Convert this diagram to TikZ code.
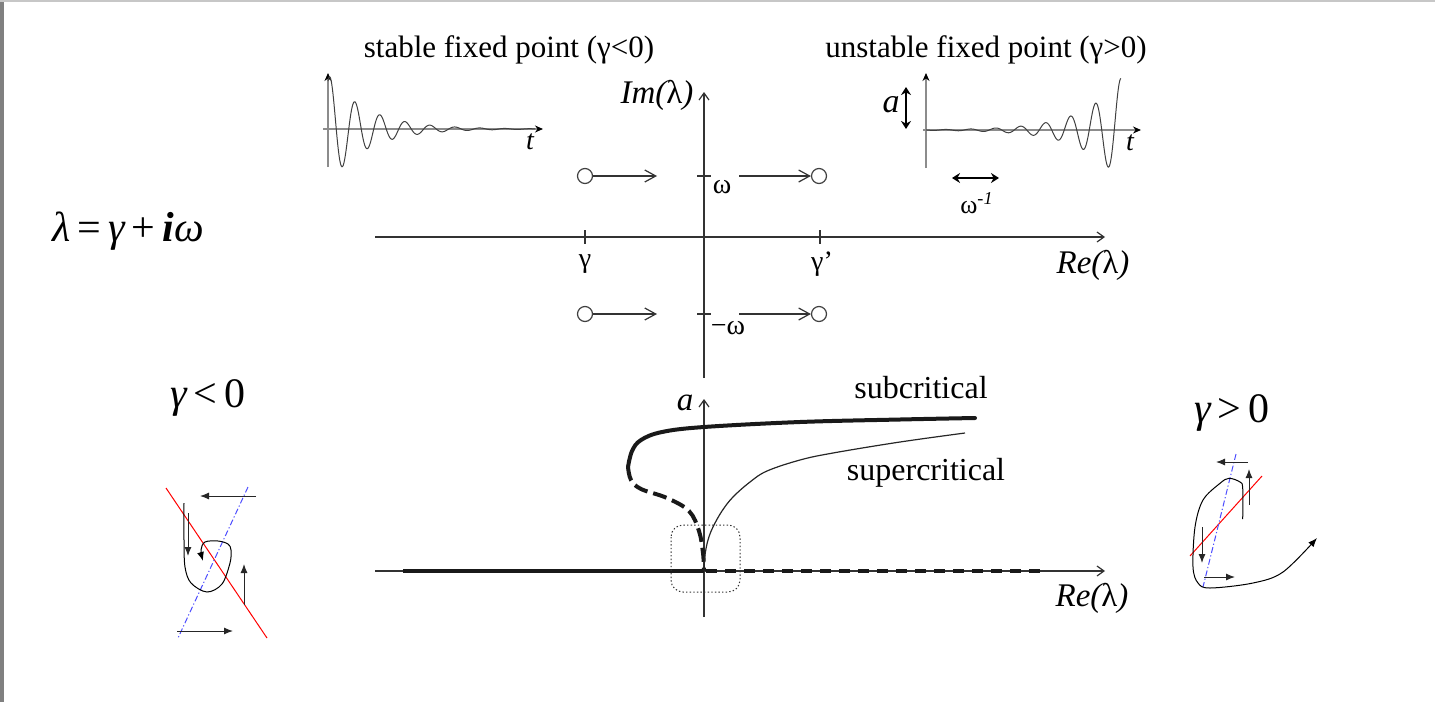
\documentclass[tikz,border=0pt]{standalone}
\usepackage{fontspec}
\setmainfont{Liberation Serif}
\usetikzlibrary{arrows.meta}
\begin{document}
\begin{tikzpicture}[x=0.5pt,y=-0.5pt,
  ttl/.style={font=\fontsize{15.5}{18}\selectfont, inner sep=0pt},
  lab/.style={font=\fontsize{16.5}{19}\selectfont\itshape, inner sep=0pt},
  smalllab/.style={font=\fontsize{14}{16}\selectfont, inner sep=0pt},
  biglab/.style={font=\fontsize{21}{24}\selectfont, inner sep=0pt},
  axisline/.style={line width=0.6pt, black!80, -{Straight Barb[length=3.5pt,width=5pt]}},
  eigshift/.style={line width=0.6pt, black!80, -{Straight Barb[length=5.5pt,width=6pt]}},
  eig/.style={circle, draw=black!75, line width=0.6pt, minimum size=7.5pt, inner sep=0pt},
  oscax/.style={line width=0.6pt, black!45, -{Stealth[length=4pt,width=3.5pt,black]}},
  wave/.style={line width=0.5pt, black!75},
  dbl/.style={line width=1.2pt, {Stealth[length=4pt,width=5pt]}-{Stealth[length=4pt,width=5pt]}},
  parr/.style={line width=0.5pt, black!85, -{Latex[length=4.5pt,width=3.5pt]}},
  traj/.style={line width=0.5pt, black},
  nullr/.style={line width=0.5pt, red},
  nullb/.style={line width=0.5pt, blue!70, dash pattern=on 3pt off 1.2pt on 0.6pt off 1.2pt},
  branch/.style={line width=2pt, black!90},
]
\useasboundingbox (0,0) rectangle (1435,702);
% page borders
\fill[black!50] (0,0) rectangle (3.5,702);
\fill[black!22] (0,0) rectangle (1435,2);

% ---------- top: complex plane ----------
\coordinate (reL) at (375,237);
\coordinate (reR) at (1105,237);
\coordinate (imB) at (704,378);
\coordinate (imT) at (704,92);
\draw[axisline] (reL) -- (reR);
\draw[axisline] (imB) -- (imT);
\node[lab] (imlab) at (657,95) {Im(\upshape λ\itshape)};
\node[lab] (relab) at (1093,265) {Re(\upshape λ\itshape)};
% ticks
\draw[line width=0.6pt, black!80] (585,230) -- (585,244);
\draw[line width=0.6pt, black!80] (820,230) -- (820,244);
\draw[line width=0.6pt, black!80] (697,176) -- (711,176);
\draw[line width=0.6pt, black!80] (697,314) -- (711,314);
\node[smalllab] (glab) at (585,264) {γ};
\node[smalllab] (gplab) at (822,264) {γ’};
\node[smalllab] (wlab) at (722,187) {ω};
\node[smalllab] (mwlab) at (728,328) {−ω};
% eigenvalues
\node[eig] (e1) at (585,176) {};
\node[eig] (e2) at (819,176) {};
\node[eig] (e3) at (585,314) {};
\node[eig] (e4) at (819,314) {};
\coordinate (a1) at (657,176);
\coordinate (a2s) at (739,176);
\coordinate (a3) at (657,314);
\coordinate (a4s) at (739,314);
\draw[eigshift] (e1) -- (a1);
\draw[eigshift] (a2s) -- (e2);
\draw[eigshift] (e3) -- (a3);
\draw[eigshift] (a4s) -- (e4);

% ---------- top-left: damped oscillation ----------
\coordinate (o1b) at (328,167);
\coordinate (o1t) at (328,73);
\coordinate (o1l) at (323,129);
\coordinate (o1r) at (543,129);
\draw[oscax] (o1b) -- (o1t);
\draw[oscax] (o1l) -- (o1r);
\draw[wave] plot[domain=328:535, samples=300, variable=\x]
  (\x, {129 - 52*exp(-0.026*(\x-330))*cos(deg(2*pi*(\x-330)/25))});
\node[smalllab,font=\fontsize{14}{16}\selectfont\itshape] (t1) at (530,142) {t};
\node[ttl] (stab) at (509,50) {stable fixed point (γ<0)};

% ---------- top-right: growing oscillation ----------
\coordinate (o2b) at (926,168);
\coordinate (o2t) at (926,73);
\coordinate (o2l) at (923,130);
\coordinate (o2r) at (1141,130);
\draw[oscax] (o2b) -- (o2t);
\draw[oscax] (o2l) -- (o2r);
\draw[wave] plot[domain=926:1121, samples=300, variable=\x]
  (\x, {130 + 37*exp(0.026*(\x-1108))*cos(deg(2*pi*(\x-1108)/25))});
\node[smalllab,font=\fontsize{14}{16}\selectfont\itshape] (t2) at (1130,143) {t};
\node[ttl] (unstab) at (986,50) {unstable fixed point (γ>0)};
\coordinate (aT) at (906,87);
\coordinate (aB) at (906,129);
\draw[dbl] (aT) -- (aB);
\node[lab,font=\fontsize{17}{19}\selectfont\itshape] (alab) at (891,105) {a};
\coordinate (wL) at (952,178);
\coordinate (wR) at (999,178);
\draw[dbl] (wL) -- (wR);
\node[smalllab,font=\fontsize{13}{15}\selectfont] (winv) at (977,203) {ω\textsuperscript{\itshape -1}};

% ---------- left formula ----------
\node[biglab] (formula) at (128,231) {\itshape λ\upshape\,=\,\itshape γ\upshape\,+\,{\bfseries\itshape i}\itshape ω};
\node[biglab] (gneg) at (208,398) {\itshape γ\upshape\,<\,0};
\node[biglab] (gpos) at (1232,413) {\itshape γ\upshape\,>\,0};

% ---------- bottom: bifurcation diagram ----------
\coordinate (bL) at (375,571);
\coordinate (bR) at (1105,571);
\coordinate (bB) at (704,617);
\coordinate (bT) at (704,399);
\draw[axisline] (bL) -- (bR);
\draw[axisline] (bB) -- (bT);
\node[lab] (alab2) at (685,403) {a};
\node[lab] (relab2) at (1092,598) {Re(\upshape λ\itshape)};
\coordinate (o) at (704,571);
\coordinate (o2) at (706,571);
\coordinate (sL) at (403,571);
\coordinate (dR) at (1046,571);
\draw[line width=1.9pt, black!90] (sL) -- (o);
\draw[line width=1.9pt, black!90, dash pattern=on 5.5pt off 4pt] (o2) -- (dR);
% subcritical branch
\draw[branch, line cap=round] plot[smooth, tension=0.6] coordinates
  {(975,418) (900,419.5) (800,422) (704,427) (662,432) (641,440) (632,451) (628,467)};
\draw[branch, dash pattern=on 7pt off 3pt] plot[smooth, tension=0.6] coordinates
  {(628,467) (631,480) (641,489) (667,498) (689,511) (699,531) (703,553) (704,571)};
% supercritical branch
\draw[line width=0.6pt, black!85] plot[smooth, tension=0.6] coordinates
  {(704,571) (705,555) (708,540) (713,527) (722,511) (733,497) (750,482) (767,471) (800,460) (833,453) (900,442) (965,433)};
\node[lab,font=\fontsize{16}{19}\selectfont] (sub) at (921,388) {subcritical};
\node[lab,font=\fontsize{16}{19}\selectfont] (sup) at (926,473) {supercritical};
\draw[line width=0.5pt, black!80, dash pattern=on 0.7pt off 1.1pt, rounded corners=6pt]
  (671,525) rectangle (740,592);

% ---------- left phase portrait (gamma<0) ----------
\coordinate (rl1) at (166,488);
\coordinate (rl2) at (267,638);
\draw[nullr] (rl1) -- (rl2);
\coordinate (bl1) at (248,487);
\coordinate (bl2) at (178,638);
\draw[nullb] (bl1) -- (bl2);
\coordinate (pl1s) at (256,496); \coordinate (pl1e) at (200,496);
\draw[parr] (pl1s) -- (pl1e);
\coordinate (pl2s) at (177,631); \coordinate (pl2e) at (233,631);
\draw[parr] (pl2s) -- (pl2e);
\coordinate (pl3s) at (244,605); \coordinate (pl3e) at (244,564);
\draw[parr] (pl3s) -- (pl3e);
\coordinate (pl4s) at (188,513); \coordinate (pl4e) at (188,556);
\draw[parr] (pl4s) -- (pl4e);
\draw[traj, -{Latex[length=4.5pt,width=3.5pt]}] plot[smooth, tension=0.55] coordinates
  {(184,503) (184,540) (185,567) (191,583) (207,592) (222,584) (230,563) (231,550) (228,544) (218,541) (205,542) (201,550) (203,561)};

% ---------- right phase portrait (gamma>0) ----------
\coordinate (rr1) at (1190,556);
\coordinate (rr2) at (1262,476);
\draw[nullr] (rr1) -- (rr2);
\coordinate (br1) at (1236,454);
\coordinate (br2) at (1203,587);
\draw[nullb] (br1) -- (br2);
\coordinate (pr1s) at (1248,462); \coordinate (pr1e) at (1216,462);
\draw[parr] (pr1s) -- (pr1e);
\coordinate (pr2s) at (1249,505); \coordinate (pr2e) at (1249,469);
\draw[parr] (pr2s) -- (pr2e);
\coordinate (pr3s) at (1202,527); \coordinate (pr3e) at (1202,563);
\draw[parr] (pr3s) -- (pr3e);
\coordinate (pr4s) at (1204,577); \coordinate (pr4e) at (1235,577);
\draw[parr] (pr4s) -- (pr4e);
\draw[traj, -{Latex[length=4.5pt,width=3.5pt]}] plot[smooth, tension=0.55] coordinates
  {(1242.7,519) (1242.7,488) (1240,482) (1229,478.3) (1220,483.3) (1203,500) (1195,527) (1193,567) (1198,583) (1210,588) (1253,583) (1283,572) (1317,538)};
\end{tikzpicture}
\end{document}
